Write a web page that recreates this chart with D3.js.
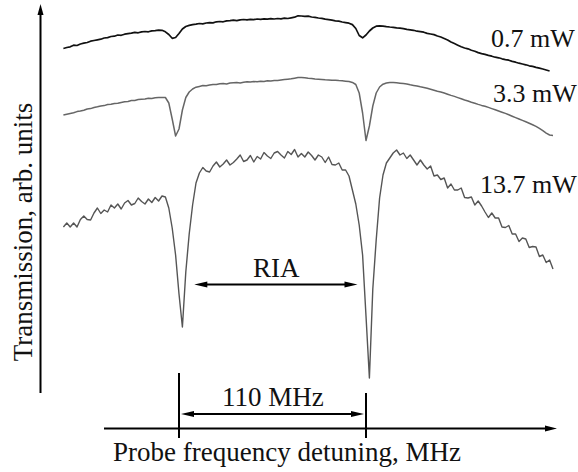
<!DOCTYPE html>
<html>
<head>
<meta charset="utf-8">
<script src="https://cdnjs.cloudflare.com/ajax/libs/d3/7.8.5/d3.min.js"></script>
<style>
  body { margin: 0; background: #fff; }
  text { font-family: "Liberation Serif", "Times New Roman", serif; fill: #111; }
</style>
</head>
<body>
<div class="canvas"></div>
<script>
// probe detuning grid (MHz), one sample every 2 MHz
const detuning = d3.range(-68, 221, 2);

// transmission traces (arb. units)
const trace07 = [351.5,352.5,353.2,354.8,354.5,356,356.8,357.5,358.8,359.5,360.2,360.8,362,362.4,363.5,363.8,365,364.7,365.8,366.4,
  366.8,367.6,367.2,368.1,368.5,368.2,369.1,369.4,369.8,369.7,368.2,365.5,361.7,362.5,366.5,371,373.5,374.6,375.4,375.8,
  376.5,376.2,377,377.4,377.1,378.2,378.5,378.2,379.1,379.3,379.8,379.4,380.2,380.5,380.1,380.7,380.4,381,380.6,381.1,
  380.8,381.3,381,381.5,381.2,381.8,381.5,382.2,382.8,384.2,384,383.6,383.8,383,382.7,382,381.6,380.8,380.4,379.8,
  379.2,378.8,378,377.4,376.8,375.4,371.5,364.5,362.2,365,369,372,373.8,374.2,373.9,373.4,373,372.7,372.1,371.8,
  371.4,370.6,370.2,369.7,368.8,368.4,367.8,366.6,366,365.4,364,363,361.5,360,358,356.4,354.8,353.2,352,351.2,
  349.8,348.8,347.4,346.4,345.6,344.6,343.8,342.8,342.2,341.2,340.4,339.8,338.6,337.8,336.8,336,335.2,334.2,333.6,332.6,
  331.8,331,330,329];

const trace33 = [285,285.8,286.5,287.2,288.4,289,289.8,291,291.4,292.5,293.2,294,294.4,295.5,295.8,296.6,296.8,297.6,298.2,298.5,
  299.4,299.6,300.4,300.8,301,301.8,301.6,302.2,302.6,302.4,302.5,297,281,264,271,290,302.5,308,311,312.8,
  313.6,314.4,314.2,315,315.6,315.4,316.2,316.4,316.1,317,317.2,317.4,317.1,317.8,318.2,318,318.5,318.2,318.8,318.5,
  319.2,318.9,319.4,319.6,320,320.4,320.8,321.2,321.8,322.4,322.6,322.2,321.8,321.6,321.1,320.8,320.5,320.2,320.1,319.7,
  319.8,319.4,319.2,318.8,318.4,317.6,315.5,307,287,259.5,274,294,307,313,315.8,317,317.6,317.4,317.2,316.8,
  316.4,316,315.2,314.6,314,313.2,312.6,311.8,310.8,309.8,308.8,308,307,305.8,304.6,303.6,302.4,301.2,300,299,
  297.8,296.8,295.6,294.6,293.8,292.6,291.4,290.2,289,287.8,286.6,285.2,283.8,282.4,281,279.6,278.2,276.8,275.2,273.6,
  271.6,269.4,266.8,265,264.4];

const trace137 = [173,177,173,177,173,180.5,184,180.5,180,187,192,186.5,190,188,195,192,196,191,197,199.5,
  195,196.5,202,198.5,196,201,197.5,202.5,199,204,
  203,192,172,145,106,73,128,166,195,217,
  227,232.5,229,228,234,238,233,236,240,235,237.5,241,245,238.5,240,244.5,238,243.5,241,247.5,
  244,241.5,247,248.5,245,242,248.5,245.5,250.5,243,246.5,243,248,244.5,240,245,243,237.5,243,235.5,
  235,237,230,230,
  224,210,196,175,145,84,22,111,160,202,225,237,
  242,247,250,245,247,241.5,245,240,235,240,235,231,234,224,225,220.5,222,212,216,210,
  210,212,202.5,202,203,195,199,194,188,182.5,187,182,182,173,172.5,174.5,166,166,158.5,162,
  161,152.5,153.5,153,143.5,145,137.5,140,131];

const traces = [
  {label: "0.7 mW", values: trace07, color: "#111", w: 1.7},
  {label: "3.3 mW", values: trace33, color: "#666", w: 1.5},
  {label: "13.7 mW", values: trace137, color: "#555", w: 1.4}
];

const width = 578, height = 472;

const svg = d3.select(".canvas")
  .append("svg")
    .attr("width", width)
    .attr("height", height);

// x: detuning in MHz, y: transmission in arb. units
const x = d3.scaleLinear().domain([0, 110]).range([179, 366]);
const y = d3.scaleLinear().domain([0, 400]).range([400, 0]);

const line = d3.line()
    .x((d, i) => x(detuning[i]))
    .y(d => y(d));

svg.selectAll(".trace")
  .data(traces)
  .join("path")
    .attr("class", "trace")
    .attr("d", d => line(d.values))
    .attr("fill", "none")
    .attr("stroke", d => d.color)
    .attr("stroke-width", d => d.w)
    .attr("stroke-linejoin", "round");

// power labels
const labelPos = [[491, 47], [493, 102], [480, 193]];
svg.selectAll(".plabel")
  .data(traces)
  .join("text")
    .attr("class", "plabel")
    .attr("x", (d, i) => labelPos[i][0])
    .attr("y", (d, i) => labelPos[i][1])
    .style("font-size", "26px")
    .text(d => d.label);

// helper for filled arrow heads
const head = (tx, ty, dir, len, hw) => {
  // dir: "r", "l", "u"
  if (dir === "r") return `M${tx},${ty} L${tx - len},${ty - hw} L${tx - len},${ty + hw} Z`;
  if (dir === "l") return `M${tx},${ty} L${tx + len},${ty - hw} L${tx + len},${ty + hw} Z`;
  return `M${tx},${ty} L${tx - hw},${ty + len} L${tx + hw},${ty + len} Z`;
};

// y axis arrow
svg.append("line")
    .attr("x1", 40.5).attr("x2", 40.5)
    .attr("y1", 393).attr("y2", 12)
    .attr("stroke", "#000").attr("stroke-width", 2);
svg.append("path").attr("d", head(40.5, 4, "u", 11, 3)).attr("fill", "#000");

// x axis arrow
svg.append("line")
    .attr("x1", 104).attr("x2", 548)
    .attr("y1", 428.5).attr("y2", 428.5)
    .attr("stroke", "#000").attr("stroke-width", 2);
svg.append("path").attr("d", head(557, 428.5, "r", 12, 3)).attr("fill", "#000");

// ticks at the two resonances
svg.append("line")
    .attr("x1", x(0)).attr("x2", x(0))
    .attr("y1", 373).attr("y2", 438)
    .attr("stroke", "#000").attr("stroke-width", 2);
svg.append("line")
    .attr("x1", x(110)).attr("x2", x(110))
    .attr("y1", 393).attr("y2", 438)
    .attr("stroke", "#000").attr("stroke-width", 2);

// 110 MHz double arrow
svg.append("line")
    .attr("x1", x(0) + 12).attr("x2", x(110) - 12)
    .attr("y1", 414).attr("y2", 414)
    .attr("stroke", "#000").attr("stroke-width", 2);
svg.append("path").attr("d", head(x(0) + 2, 414, "l", 13, 3)).attr("fill", "#000");
svg.append("path").attr("d", head(x(110) - 2, 414, "r", 13, 3)).attr("fill", "#000");
svg.append("text")
    .attr("x", 222).attr("y", 406)
    .style("font-size", "27px")
    .text("110 MHz");

// RIA double arrow
svg.append("line")
    .attr("x1", x(9) + 10).attr("x2", x(105) - 10)
    .attr("y1", 284.5).attr("y2", 284.5)
    .attr("stroke", "#000").attr("stroke-width", 2);
svg.append("path").attr("d", head(x(9), 284.5, "l", 13, 3)).attr("fill", "#000");
svg.append("path").attr("d", head(x(105), 284.5, "r", 13, 3)).attr("fill", "#000");
svg.append("text")
    .attr("x", 253).attr("y", 277)
    .style("font-size", "27px")
    .text("RIA");

// axis labels
svg.append("text")
    .attr("x", 113).attr("y", 461)
    .style("font-size", "27px")
    .text("Probe frequency detuning, MHz");

svg.append("text")
    .attr("text-anchor", "middle")
    .attr("transform", "translate(32,232) rotate(-90)")
    .style("font-size", "27px")
    .text("Transmission, arb. units");
</script>
</body>
</html>
